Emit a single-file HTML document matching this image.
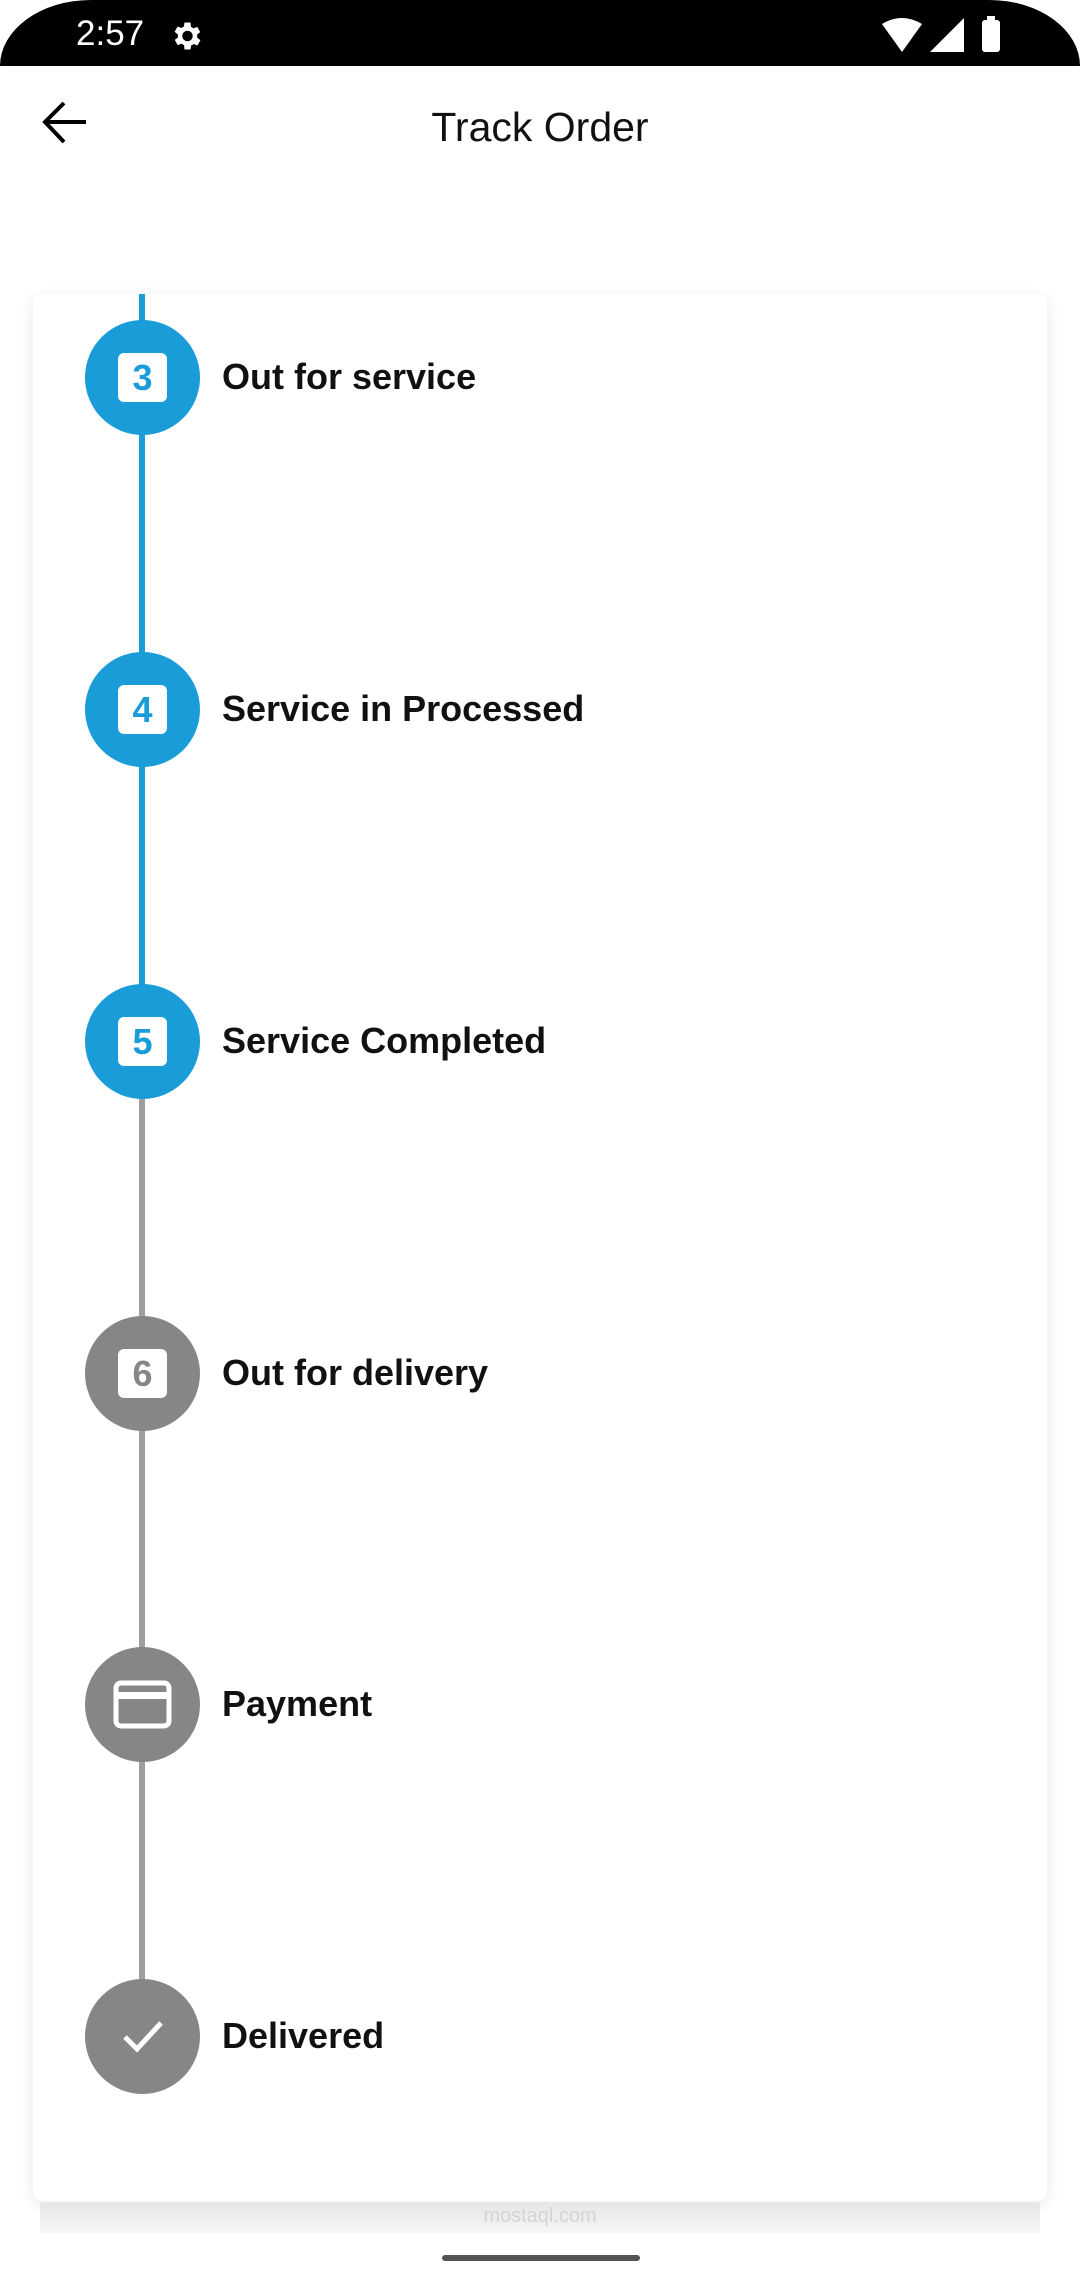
<!DOCTYPE html>
<html><head><meta charset="utf-8"><style>
*{margin:0;padding:0;box-sizing:border-box}
body{width:1080px;height:2280px;background:#fff;position:relative;overflow:hidden;font-family:"Liberation Sans",sans-serif}
.status{position:absolute;left:0;top:0;width:1080px;height:66px;background:#000;border-radius:110px 110px 0 0 / 80px 80px 0 0}
.time{position:absolute;left:76px;top:14px;color:#fff;font-size:35px}
.title{position:absolute;left:0;width:1080px;top:104px;text-align:center;font-size:41px;color:#111}
.card{position:absolute;left:33px;top:294px;width:1014px;height:1907px;background:#fff;border-radius:10px;box-shadow:0 4px 14px rgba(0,0,0,0.10)}
.line{position:absolute;left:139px;width:6px}
.c{position:absolute;left:85px;width:115px;height:115px;border-radius:50%}
.sq{position:absolute;left:33px;top:33px;width:49px;height:49px;background:#fff;border-radius:6px;text-align:center;font-weight:bold;font-size:36px;line-height:49px}
.lbl{position:absolute;left:222px;font-weight:bold;font-size:36px;color:#111;line-height:40px}
.blue{background:#1a9cd8}.grey{background:#868686}
.home{position:absolute;left:442px;top:2255px;width:198px;height:6px;border-radius:3px;background:#555}
</style></head><body>
<div class="status"></div>
<div class="time">2:57</div>
<svg style="position:absolute;left:168px;top:18px" width="36" height="36" viewBox="0 0 24 24"><path fill="#fff" d="M19.4 13a7.5 7.5 0 0 0 0-2l2.1-1.6-2-3.5-2.5 1a7 7 0 0 0-1.7-1L15 3h-4l-.4 2.7a7 7 0 0 0-1.7 1l-2.5-1-2 3.5L6.6 11a7.5 7.5 0 0 0 0 2l-2.1 1.6 2 3.5 2.5-1a7 7 0 0 0 1.7 1L11 21h4l.4-2.7a7 7 0 0 0 1.7-1l2.5 1 2-3.5zM13 15.5a3.5 3.5 0 1 1 0-7 3.5 3.5 0 0 1 0 7z"/></svg>
<svg style="position:absolute;left:880px;top:16px" width="130" height="38" viewBox="0 0 130 38"><path fill="#fff" d="M2 8 Q22 -4 42 8 L22 36Z"/><path fill="#fff" d="M84 2 L84 36 L50 36Z"/><rect x="102" y="4" width="18" height="32" rx="3" fill="#fff"/><rect x="107" y="0" width="8" height="5" fill="#fff"/></svg>
<svg style="position:absolute;left:40px;top:100px" width="50" height="46" viewBox="0 0 50 46"><path d="M46 22H6M24 3L5 22l19 20" stroke="#000" stroke-width="4" fill="none"/></svg>
<div class="title">Track Order</div>
<div class="card"></div>
<div class="line blue" style="top:294px;height:749px"></div>
<div class="line grey" style="top:1043px;height:994px;background:#9e9e9e"></div>
<div class="c blue" style="top:320px"><div class="sq" style="color:#1a9cd8">3</div></div>
<div class="lbl" style="top:357px">Out for service</div>
<div class="c blue" style="top:652px"><div class="sq" style="color:#1a9cd8">4</div></div>
<div class="lbl" style="top:689px">Service in Processed</div>
<div class="c blue" style="top:984px"><div class="sq" style="color:#1a9cd8">5</div></div>
<div class="lbl" style="top:1021px">Service Completed</div>
<div class="c grey" style="top:1316px"><div class="sq" style="color:#868686">6</div></div>
<div class="lbl" style="top:1353px">Out for delivery</div>
<div class="c grey" style="top:1647px"><svg style="position:absolute;left:28px;top:33px" width="59" height="49" viewBox="0 0 59 49"><rect x="3" y="3" width="53" height="43" rx="5" fill="none" stroke="#fff" stroke-width="5"/><rect x="3" y="12" width="53" height="7" fill="#fff"/></svg></div>
<div class="lbl" style="top:1684px">Payment</div>
<div class="c grey" style="top:1979px"><svg style="position:absolute;left:30px;top:30px" width="55" height="55" viewBox="0 0 55 55"><path d="M10 28l12 12L46 14" stroke="#fff" stroke-width="5" fill="none"/></svg></div>
<div class="lbl" style="top:2016px">Delivered</div>
<div style="position:absolute;left:40px;top:2203px;width:1000px;height:30px;background:linear-gradient(#e6e6e6,#f6f6f6)"></div>
<div style="position:absolute;left:475px;top:2205px;width:130px;text-align:center;color:#d4d4d4;font-size:20px">mostaql.com</div>
<div class="home"></div>
</body></html>
